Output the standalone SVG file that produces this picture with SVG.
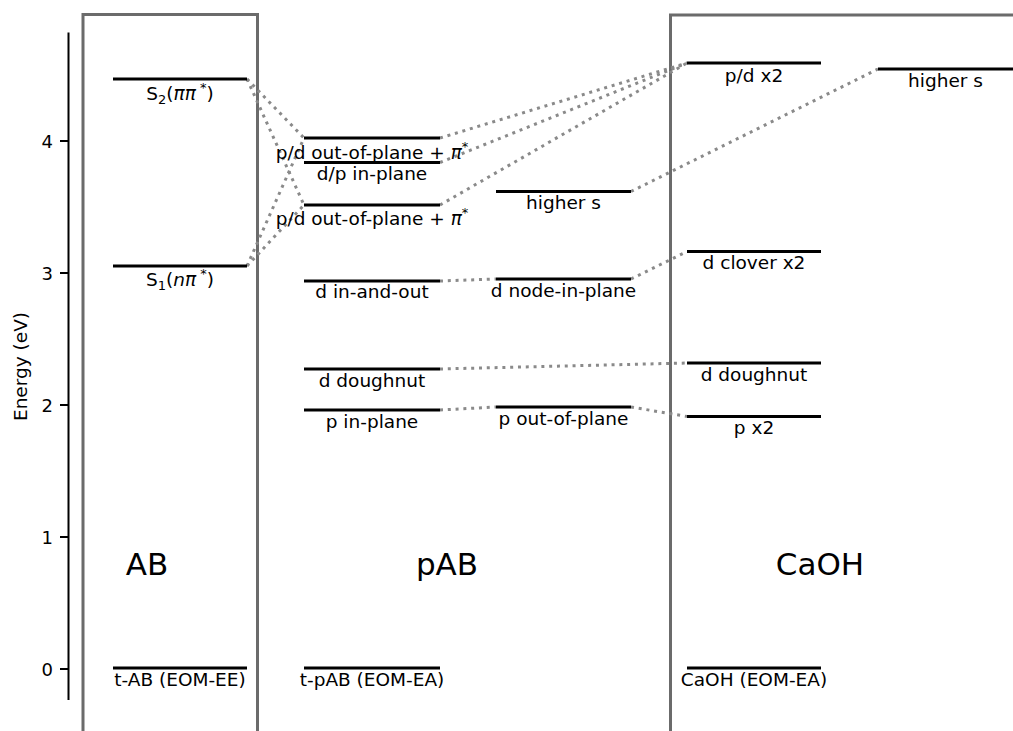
<svg xmlns="http://www.w3.org/2000/svg" width="1013" height="731" viewBox="0 0 1013 731">
<style>
text{font-family:"DejaVu Sans",sans-serif;fill:#000}
.lbl{font-size:18.5px;text-anchor:middle}
.tick{font-size:18px;text-anchor:end}
.big{font-size:31px;text-anchor:middle}
.lvl{stroke:#000;stroke-width:3;fill:none}
.box{stroke:#6b6b6b;stroke-width:3;fill:none}
.con line{stroke:#8a8a8a;stroke-width:3;stroke-dasharray:3 4.8;fill:none}
.ax{stroke:#000;stroke-width:2;fill:none}
.it{font-style:italic}
</style>
<rect width="1013" height="731" fill="#fff"/>
<g id="axis">
<path class="ax" d="M68.5,32.5V700M60,141H68.5M60,273H68.5M60,405H68.5M60,537H68.5M60,669H68.5"/>
<text class="tick" x="53" y="147.5">4</text>
<text class="tick" x="53" y="279.5">3</text>
<text class="tick" x="53" y="411.5">2</text>
<text class="tick" x="53" y="543.5">1</text>
<text class="tick" x="53" y="675.5">0</text>
<text x="0" y="0" font-size="18.5" text-anchor="middle" transform="translate(27,366.5) rotate(-90)">Energy (eV)</text>
</g>
<g id="boxes">
<path class="box" d="M83,731V14.5H257.5V731"/>
<path class="box" d="M670.5,731V15H1014"/>
<text class="big" x="147" y="575">AB</text>
<text class="big" x="447" y="575">pAB</text>
<text class="big" x="820" y="575">CaOH</text>
</g>
<g id="connectors" class="con">
<line x1="247" y1="79" x2="304" y2="138"/>
<line x1="247" y1="79" x2="304" y2="205"/>
<line x1="247" y1="266" x2="304" y2="138"/>
<line x1="247" y1="266" x2="304" y2="205"/>
<line x1="440" y1="138" x2="687" y2="63"/>
<line x1="440" y1="162.5" x2="687" y2="63"/>
<line x1="440" y1="205" x2="687" y2="63"/>
<line x1="631" y1="191.5" x2="878" y2="69"/>
<line x1="440" y1="281" x2="496" y2="279"/>
<line x1="631" y1="279" x2="687" y2="251.5"/>
<line x1="440" y1="369" x2="687" y2="363"/>
<line x1="440" y1="410" x2="496" y2="407"/>
<line x1="631" y1="407" x2="687" y2="416.5"/>
</g>
<g id="ab-s2"><path class="lvl" d="M113,79H247"/><text class="lbl" x="180" y="100">S<tspan dy="4" font-size="13">2</tspan><tspan dy="-4">(</tspan><tspan class="it">ππ</tspan><tspan dy="-8" font-size="13"> *</tspan><tspan dy="8">)</tspan></text></g>
<g id="ab-s1"><path class="lvl" d="M113,266H247"/><text class="lbl" x="180" y="286">S<tspan dy="4" font-size="13">1</tspan><tspan dy="-4">(</tspan><tspan class="it">nπ</tspan><tspan dy="-8" font-size="13"> *</tspan><tspan dy="8">)</tspan></text></g>
<g id="ab-ground"><path class="lvl" d="M113,668H247"/><text class="lbl" x="180" y="686">t-AB (EOM-EE)</text></g>
<g id="pab-pd-out-1"><path class="lvl" d="M304,138H440"/><text class="lbl" x="372" y="159">p/d out-of-plane + <tspan class="it">π</tspan><tspan dy="-8" font-size="13">*</tspan></text></g>
<g id="pab-dp-in"><path class="lvl" d="M304,162.5H440"/><text class="lbl" x="372" y="180">d/p in-plane</text></g>
<g id="pab-pd-out-2"><path class="lvl" d="M304,205H440"/><text class="lbl" x="372" y="225">p/d out-of-plane + <tspan class="it">π</tspan><tspan dy="-8" font-size="13">*</tspan></text></g>
<g id="pab-d-inout"><path class="lvl" d="M304,281H440"/><text class="lbl" x="372" y="298">d in-and-out</text></g>
<g id="pab-d-doughnut"><path class="lvl" d="M304,369H440"/><text class="lbl" x="372" y="386.5">d doughnut</text></g>
<g id="pab-p-in"><path class="lvl" d="M304,410H440"/><text class="lbl" x="372" y="427.5">p in-plane</text></g>
<g id="pab-ground"><path class="lvl" d="M304,668H440"/><text class="lbl" x="372" y="686">t-pAB (EOM-EA)</text></g>
<g id="pab-higher-s"><path class="lvl" d="M496,191.5H631"/><text class="lbl" x="563.5" y="209">higher s</text></g>
<g id="pab-d-node"><path class="lvl" d="M496,279H631"/><text class="lbl" x="563.5" y="297">d node-in-plane</text></g>
<g id="pab-p-out"><path class="lvl" d="M496,407H631"/><text class="lbl" x="563.5" y="425">p out-of-plane</text></g>
<g id="caoh-pd"><path class="lvl" d="M687,63H821"/><text class="lbl" x="754" y="81.5">p/d x2</text></g>
<g id="caoh-d-clover"><path class="lvl" d="M687,251.5H821"/><text class="lbl" x="754" y="269">d clover x2</text></g>
<g id="caoh-d-doughnut"><path class="lvl" d="M687,363H821"/><text class="lbl" x="754" y="380.5">d doughnut</text></g>
<g id="caoh-p"><path class="lvl" d="M687,416.5H821"/><text class="lbl" x="754" y="434">p x2</text></g>
<g id="caoh-ground"><path class="lvl" d="M687,668H821"/><text class="lbl" x="754" y="686">CaOH (EOM-EA)</text></g>
<g id="caoh-higher-s"><path class="lvl" d="M878,69H1013"/><text class="lbl" x="945.5" y="86.5">higher s</text></g>
</svg>
